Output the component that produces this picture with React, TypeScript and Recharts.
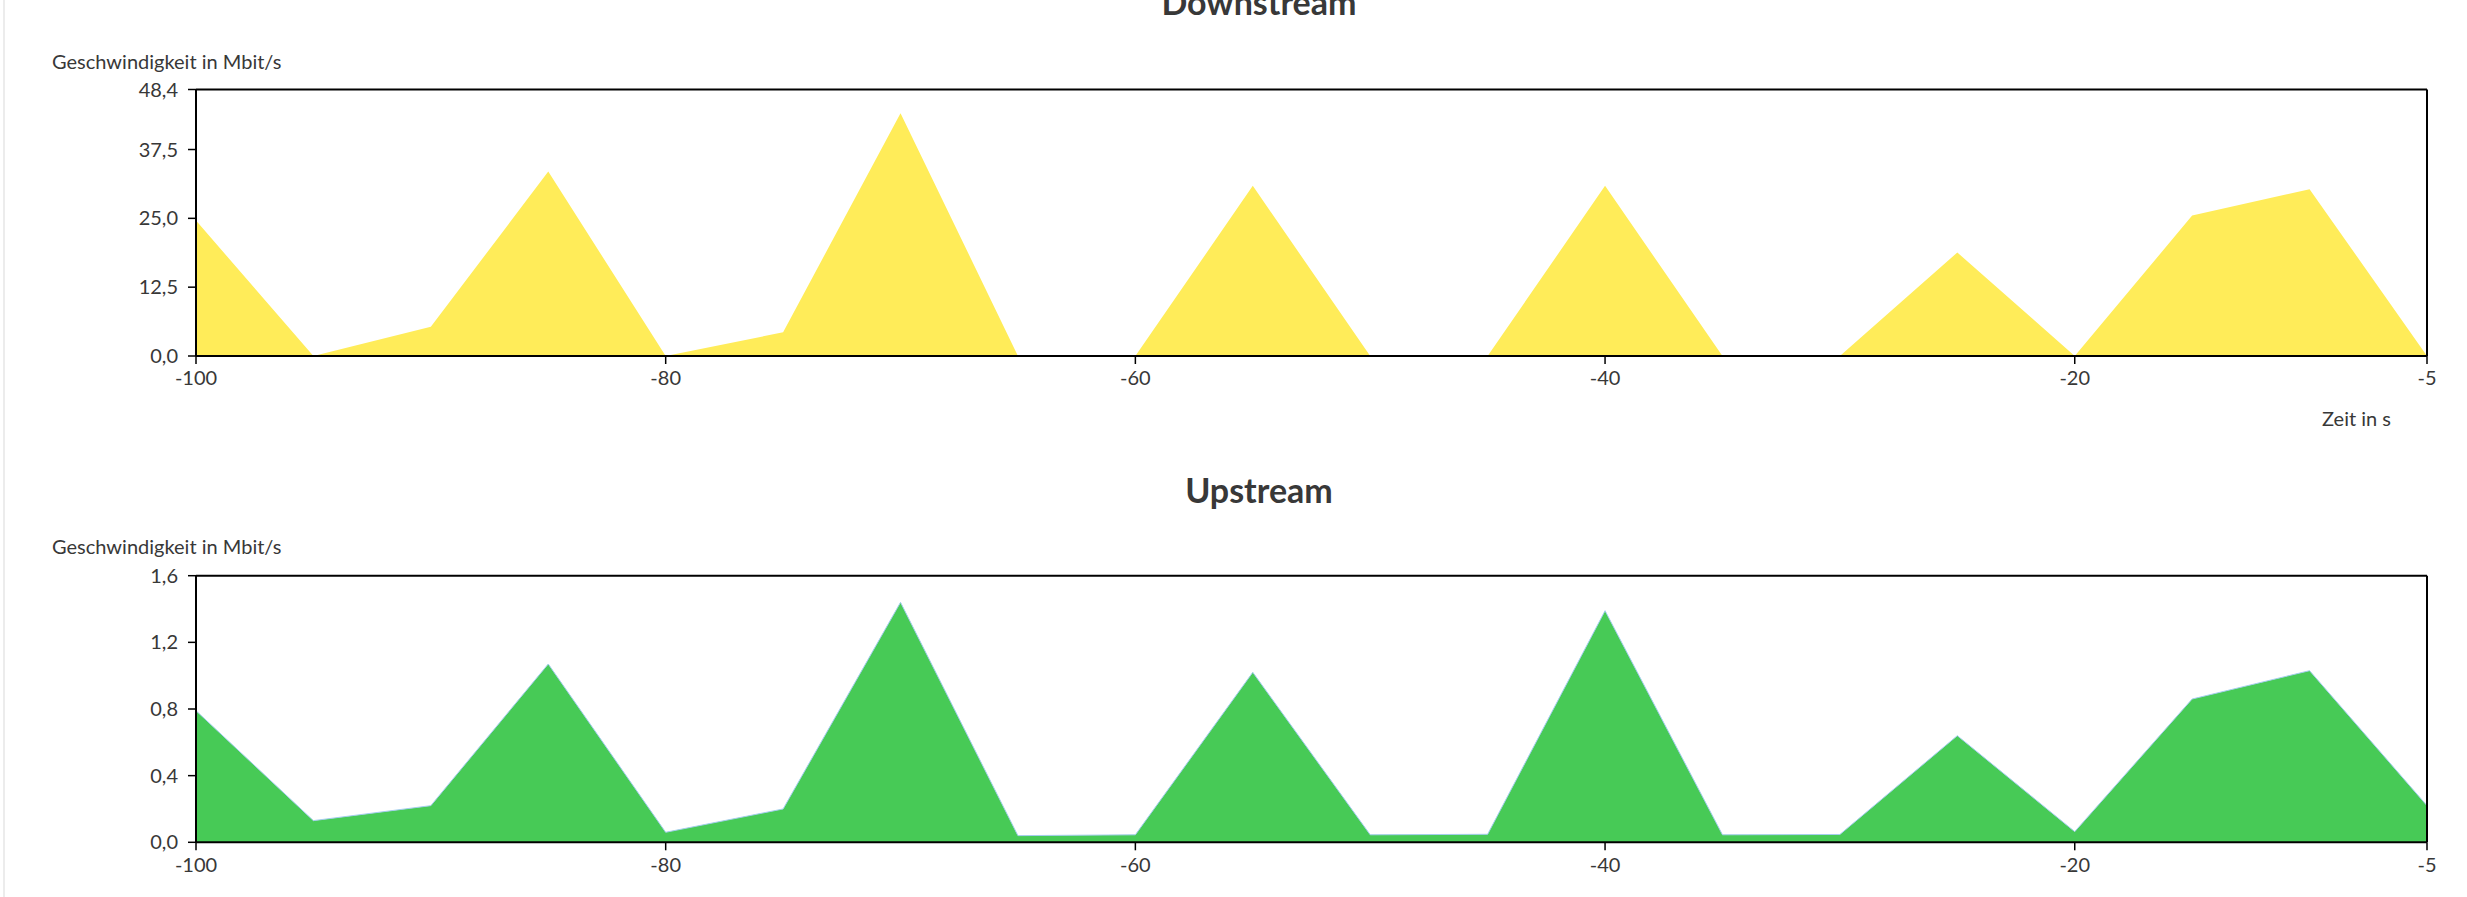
import React from "react";
import { AreaChart, Area, XAxis, YAxis, ReferenceLine } from "recharts";

// Zeitachse in Sekunden (alle 5 s ein Messwert)
const seconds = [-100, -95, -90, -85, -80, -75, -70, -65, -60, -55, -50, -45, -40, -35, -30, -25, -20, -15, -10, -5];

// Mbit/s
const downstream = [24.6, 0, 5.3, 33.5, 0, 4.3, 44.1, 0, 0, 30.9, 0, 0, 30.9, 0, 0, 18.8, 0, 25.5, 30.3, 0];
const upstream = [0.79, 0.13, 0.22, 1.07, 0.06, 0.2, 1.44, 0.04, 0.045, 1.02, 0.045, 0.048, 1.39, 0.045, 0.047, 0.64, 0.064, 0.86, 1.03, 0.22];

const xTicks = [-100, -80, -60, -40, -20, -5];
const downTicks = [0, 12.5, 25, 37.5, 48.4];
const upTicks = [0, 0.4, 0.8, 1.2, 1.6];

const FONT = "Lato, 'Noto Sans', sans-serif";
const TEXT = "#383838";

const downData = seconds.map((t, i) => ({ t, v: downstream[i] }));
const upData = seconds.map((t, i) => ({ t, v: upstream[i] }));

const fmt = (v: number) => v.toFixed(1).replace(".", ",");

type PanelProps = {
  data: { t: number; v: number }[];
  yMax: number;
  yTicks: number[];
  fill: string;
  stroke: string;
  height: number;
  top: number;
  bottom: number;
};

const Panel: React.FC<PanelProps> = ({ data, yMax, yTicks, fill, stroke, height, top, bottom }) => (
  <AreaChart width={2467} height={height} data={data} margin={{ top, right: 40, bottom, left: 136 }}>
    <XAxis
      dataKey="t"
      type="number"
      domain={[-100, -5]}
      ticks={xTicks}
      interval={0}
      height={30}
      tickSize={8}
      tickMargin={7}
      axisLine={{ stroke: "#000", strokeWidth: 2 }}
      tickLine={{ stroke: "#000", strokeWidth: 1.5 }}
      tick={{ fill: TEXT, fontSize: 20, fontFamily: FONT }}
    />
    <YAxis
      type="number"
      domain={[0, yMax]}
      ticks={yTicks}
      interval={0}
      width={60}
      tickSize={8}
      tickMargin={10}
      tickFormatter={fmt}
      axisLine={{ stroke: "#000", strokeWidth: 2 }}
      tickLine={{ stroke: "#000", strokeWidth: 1.5 }}
      tick={{ fill: TEXT, fontSize: 20, fontFamily: FONT }}
    />
    <Area
      type="linear"
      dataKey="v"
      fill={fill}
      fillOpacity={1}
      stroke={stroke}
      strokeWidth={1}
      isAnimationActive={false}
      dot={false}
      activeDot={false}
    />
    <ReferenceLine y={yMax} stroke="#000" strokeWidth={2} />
    <ReferenceLine x={-5} stroke="#000" strokeWidth={2} />
  </AreaChart>
);

const label = (text: string, style: React.CSSProperties) => (
  <div style={{ position: "absolute", fontFamily: FONT, color: TEXT, lineHeight: 1, whiteSpace: "nowrap", ...style }}>
    {text}
  </div>
);

export default function App() {
  return (
    <div style={{ position: "fixed", left: 0, top: 0, width: 2467, height: 897, background: "#fff", overflow: "hidden" }}>
      <div style={{ position: "absolute", left: 3, top: 0, width: 2, height: 897, background: "#ececec" }} />

      {/* Downstream */}
      {label("Downstream", { left: 0, width: 2518, textAlign: "center", top: -15, fontSize: 34, fontWeight: 700 })}
      {label("Geschwindigkeit in Mbit/s", { left: 52, top: 51, fontSize: 20 })}
      <div style={{ position: "absolute", left: 0, top: 0 }}>
        <Panel data={downData} yMax={48.4} yTicks={downTicks} fill="#FFEC59" stroke="none" height={440} top={89.5} bottom={54} />
      </div>
      {label("Zeit in s", { right: 2467 - 2391, top: 408, fontSize: 20 })}

      {/* Upstream */}
      {label("Upstream", { left: 0, width: 2518, textAlign: "center", top: 473, fontSize: 34, fontWeight: 700 })}
      {label("Geschwindigkeit in Mbit/s", { left: 52, top: 536, fontSize: 20 })}
      <div style={{ position: "absolute", left: 0, top: 450 }}>
        <Panel data={upData} yMax={1.6} yTicks={upTicks} fill="#47CA56" stroke="#a4cdee" height={447} top={125.7} bottom={24.7} />
      </div>
      {label("Zeit in s", { right: 2467 - 2391, top: 894, fontSize: 20 })}
    </div>
  );
}
